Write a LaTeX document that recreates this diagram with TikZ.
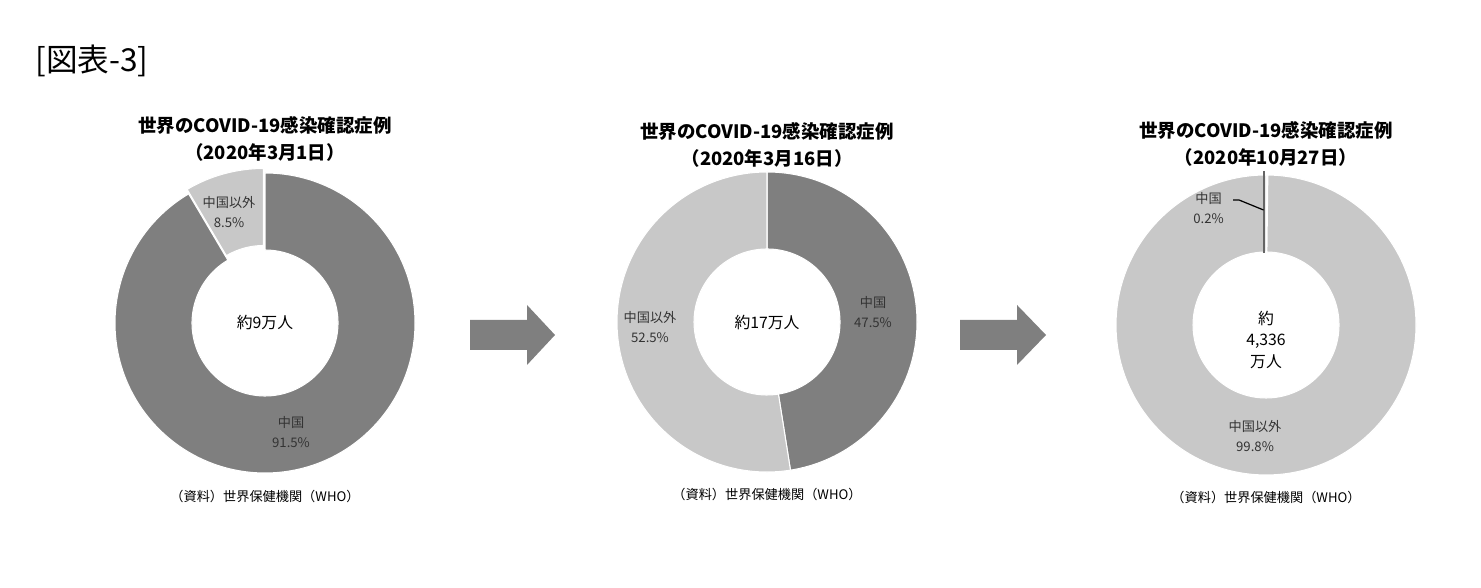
\documentclass[tikz,border=0pt]{standalone}
\usepackage{fontspec}
\setmainfont{Noto Sans CJK JP}
\definecolor{dk}{RGB}{127,127,127}
\definecolor{lt}{RGB}{200,200,200}
\newcommand{\slice}[6]{% center x,y, a1,a2, color, shift
  \fill[#5,draw=white,line width=0.6pt,shift={#6}] ($(#1,#2)+(#3:3)$) arc[start angle=#3,end angle=#4,radius=3] -- ($(#1,#2)+(#4:1.46)$) arc[start angle=#4,end angle=#3,radius=1.46] -- cycle;}
\usetikzlibrary{calc}
\begin{document}
\begin{tikzpicture}[x=1cm,y=1cm,
  ttl/.style={font=\bfseries\fontsize{10.5}{15.5}\selectfont,align=center},
  src/.style={font=\fontsize{7.5}{9}\selectfont},
  lab/.style={font=\fontsize{7.5}{11}\selectfont,align=center,text=black!80},
  ctr/.style={font=\fontsize{9}{12}\selectfont,align=center}]
\useasboundingbox (0,0) rectangle (29.62,11.76);
\node[font=\fontsize{18}{20}\selectfont] (t) at (1.84,10.54) {[図表-3]};
% chart 1
\node[ttl] (t1) at (5.30,8.98) {世界のCOVID-19感染確認症例\\（2020年3月1日）};
\slice{5.30}{5.30}{90}{-239.4}{dk}{(0,0)}
\slice{5.30}{5.30}{90}{120.6}{lt}{(-0.03,0.09)}
\node[ctr] (c1) at (5.30,5.30) {約9万人};
\node[lab] (l1a) at (4.58,7.52) {中国以外\\8.5\%};
\node[lab] (l1b) at (5.82,3.12) {中国\\91.5\%};
\node[src] (s1) at (5.30,1.84) {（資料）世界保健機関（WHO）};
% arrow 1
\fill[dk] (9.40,4.76) -- (10.54,4.76) -- (10.54,4.46) -- (11.10,5.06) -- (10.54,5.66) -- (10.54,5.36) -- (9.40,5.36) -- cycle;
% chart 2
\node[ttl] (t2) at (15.34,8.86) {世界のCOVID-19感染確認症例\\（2020年3月16日）};
\slice{15.34}{5.32}{90}{-81}{dk}{(0,0)}
\slice{15.34}{5.32}{-81}{-270}{lt}{(0,0)}
\node[ctr] (c2) at (15.34,5.30) {約17万人};
\node[lab] (l2a) at (17.46,5.52) {中国\\47.5\%};
\node[lab] (l2b) at (13.00,5.22) {中国以外\\52.5\%};
\node[src] (s2) at (15.34,1.88) {（資料）世界保健機関（WHO）};
% arrow 2
\fill[dk] (19.20,4.76) -- (20.34,4.76) -- (20.34,4.46) -- (20.92,5.06) -- (20.34,5.66) -- (20.34,5.36) -- (19.20,5.36) -- cycle;
% chart 3
\node[ttl] (t3) at (25.32,8.88) {世界のCOVID-19感染確認症例\\（2020年10月27日）};
\slice{25.32}{5.26}{89.3}{-270}{lt}{(0,0)}
\coordinate (top) at (25.28,8.34);
\coordinate (bot) at (25.28,6.70);
\draw[dk!80!black,line width=0.9pt] (top) -- (bot);
\node[ctr] (c3) at (25.32,4.96) {約\\4,336\\万人};
\node[lab,anchor=east] (l3a) at (24.60,7.60) {中国\\0.2\%};
\coordinate (k1) at (24.66,7.76);
\coordinate (k2) at (24.78,7.76);
\coordinate (k3) at (25.27,7.56);
\draw[black,line width=0.7pt] (k1) -- (k2) -- (k3);
\node[lab] (l3b) at (25.10,3.04) {中国以外\\99.8\%};
\node[src] (s3) at (25.32,1.82) {（資料）世界保健機関（WHO）};
\end{tikzpicture}
\end{document}
